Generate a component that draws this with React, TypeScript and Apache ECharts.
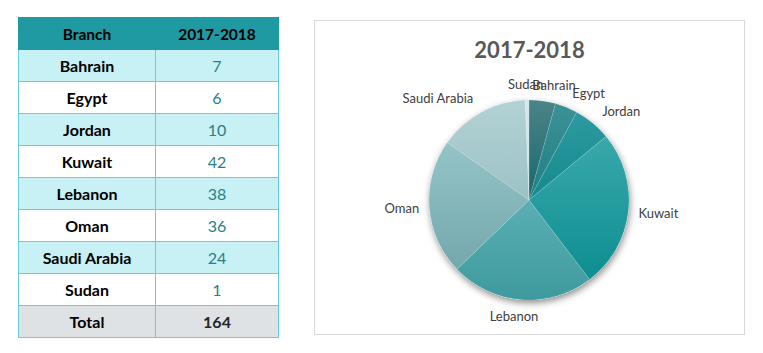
import React, { useEffect, useRef } from "react";
import * as echarts from "echarts";

const branches = ["Bahrain", "Egypt", "Jordan", "Kuwait", "Lebanon", "Oman", "Saudi Arabia", "Sudan"];
const values = [7, 6, 10, 42, 38, 36, 24, 1];
const period = "2017-2018";
const headerBranch = "Branch";
const totalLabel = "Total";

const sliceTop = ["#4a8488", "#3b9296", "#2d9aa0", "#3aa8ac", "#5aafb3", "#94c4c8", "#b3d2d5", "#d8e8ea"];
const sliceBottom = ["#17686d", "#1f7e83", "#138a8e", "#0d8e91", "#3e9a9e", "#73a8ac", "#9cc2c6", "#c8dfe1"];

const FONT = "Lato, 'Open Sans', sans-serif";

export default function App() {
  const ref = useRef<HTMLDivElement>(null);

  useEffect(() => {
    if (!ref.current) return;
    const chart = echarts.init(ref.current, null, { renderer: "svg" });
    const total = values.reduce((a, b) => a + b, 0);
    const cx = 214;
    const cy = 179;
    const r = 100;
    const mids: number[] = [];
    let acc = 0;
    values.forEach((v) => {
      mids.push(((acc + v / 2) / total) * Math.PI * 2);
      acc += v;
    });

    chart.setOption({
      animation: false,
      title: {
        text: period,
        left: "center",
        top: 12,
        textStyle: { fontFamily: FONT, fontSize: 22, fontWeight: "bold", color: "#595959" },
      },
      series: [
        {
          type: "pie",
          silent: true,
          z: 1,
          center: [cx, cy],
          radius: [0, r],
          startAngle: 90,
          data: values.map((v) => ({ value: v })),
          label: { show: false },
          labelLine: { show: false },
          itemStyle: {
            color: "#ffffff",
            shadowBlur: 7,
            shadowOffsetX: 1,
            shadowOffsetY: 3,
            shadowColor: "rgba(0,0,0,0.45)",
          },
        },
        {
          type: "pie",
          z: 2,
          center: [cx, cy],
          radius: [0, r],
          startAngle: 90,
          avoidLabelOverlap: false,
          data: branches.map((b, i) => ({
            name: b,
            value: values[i],
            itemStyle: {
              color: new echarts.graphic.LinearGradient(0, 0, 0, 1, [
                { offset: 0, color: sliceTop[i] },
                { offset: 1, color: sliceBottom[i] },
              ]),
            },
          })),
          itemStyle: { borderColor: "rgba(255,255,255,0.25)", borderWidth: 0.5 },
          label: {
            show: true,
            position: "outside",
            formatter: "{b}",
            fontFamily: FONT,
            fontSize: 13,
            color: "#404040",
          },
          labelLine: { show: false },
          emphasis: { scale: false },
          labelLayout: (p: any) => {
            const a = mids[p.dataIndex];
            const ux = Math.sin(a);
            const uy = -Math.cos(a);
            const D = 116 - 6 * Math.pow(ux, 4);
            const w = p.labelRect ? p.labelRect.width : 0;
            const f = Math.max(0, Math.min(1, 0.5 - 1.64 * ux));
            return { x: cx + ux * D - w * f, y: cy + uy * D, align: "left", verticalAlign: "middle" };
          },
        },
      ],
    });
    return () => chart.dispose();
  }, []);

  const total = values.reduce((a, b) => a + b, 0);
  const border = "1px solid #62cfdb";
  const cellBase: React.CSSProperties = {
    border,
    textAlign: "center",
    verticalAlign: "middle",
    padding: 0,
    fontFamily: FONT,
    lineHeight: "18px",
  };

  return (
    <div style={{ position: "fixed", left: 0, top: 0, width: 763, height: 353, background: "#fff" }}>
      <table
        style={{
          position: "absolute",
          left: 18,
          top: 17,
          width: 260,
          borderCollapse: "collapse",
          tableLayout: "fixed",
        }}
      >
        <colgroup>
          <col style={{ width: 137 }} />
          <col style={{ width: 123 }} />
        </colgroup>
        <tbody>
          <tr style={{ height: 32, background: "#1f9aa2" }}>
            <td style={{ ...cellBase, border: "1px solid #1f9aa2", fontWeight: "bold", fontSize: 15.5, color: "#000" }}>{headerBranch}</td>
            <td style={{ ...cellBase, border: "1px solid #1f9aa2", fontWeight: "bold", fontSize: 15.5, color: "#000" }}>{period}</td>
          </tr>
          {branches.map((b, i) => (
            <tr key={b} style={{ height: 32, background: i % 2 === 0 ? "#c8f1f5" : "#ffffff" }}>
              <td style={{ ...cellBase, fontWeight: "bold", fontSize: 16, color: "#000" }}>{b}</td>
              <td style={{ ...cellBase, fontSize: 16, color: "#2a7f86" }}>{values[i]}</td>
            </tr>
          ))}
          <tr style={{ height: 32, background: "#dfe2e5" }}>
            <td style={{ ...cellBase, fontWeight: "bold", fontSize: 16, color: "#000" }}>{totalLabel}</td>
            <td style={{ ...cellBase, fontWeight: "bold", fontSize: 16, color: "#262626" }}>{total}</td>
          </tr>
        </tbody>
      </table>
      <div
        style={{
          position: "absolute",
          left: 314,
          top: 20,
          width: 431,
          height: 315,
          boxSizing: "border-box",
          border: "1px solid #d9d9d9",
        }}
      />
      <div ref={ref} style={{ position: "absolute", left: 315, top: 21, width: 429, height: 313 }} />
    </div>
  );
}
